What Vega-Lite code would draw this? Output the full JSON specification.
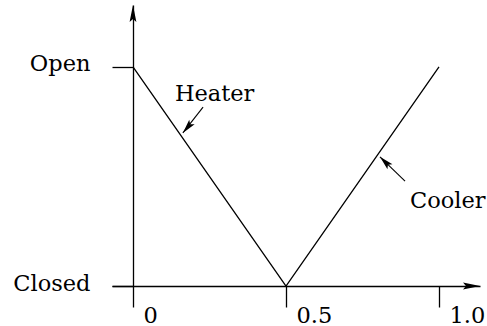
{
  "$schema": "https://vega.github.io/schema/vega-lite/v6.json",
  "width": 368,
  "height": 281,
  "autosize": {"type": "none"},
  "padding": {"left": 112, "top": 5, "right": 7, "bottom": 40},
  "background": "white",
  "config": {
    "view": {"stroke": null},
    "font": "DejaVu Serif",
    "axis": {
      "grid": false,
      "title": null,
      "domainColor": "black",
      "domainWidth": 1.3,
      "tickColor": "black",
      "tickWidth": 1.3,
      "tickSize": 21,
      "labelColor": "black",
      "labelFont": "DejaVu Serif",
      "labelFontSize": 22.5
    }
  },
  "datasets": {
    "valve": [
      {"x": 0, "y": 1},
      {"x": 0.5, "y": 0},
      {"x": 1, "y": 1}
    ],
    "pointers": [
      {"x": 0.229, "y": 0.817, "x2": 0.163, "y2": 0.699},
      {"x": 0.889, "y": 0.479, "x2": 0.807, "y2": 0.590}
    ],
    "labels": [
      {"x": 0.137, "y": 0.845, "label": "Heater"},
      {"x": 0.905, "y": 0.356, "label": "Cooler"}
    ]
  },
  "layer": [
    {
      "data": {"name": "valve"},
      "mark": {"type": "line", "color": "black", "strokeWidth": 1.3},
      "encoding": {
        "x": {
          "field": "x", "type": "quantitative",
          "scale": {"domain": [-0.0686, 1.134], "nice": false, "zero": false},
          "axis": {
            "values": [0, 0.5, 1],
            "labelExpr": "datum.value == 0 ? '0' : datum.value == 0.5 ? '0.5' : '1.0'",
            "labelAlign": "left",
            "labelOffset": 10,
            "labelBaseline": "alphabetic",
            "labelPadding": 15,
            "labelFlush": false,
            "labelOverlap": false
          }
        },
        "y": {
          "field": "y", "type": "quantitative",
          "scale": {"domain": [0, 1.283], "nice": false, "zero": false},
          "axis": {
            "values": [0, 1],
            "offset": -21,
            "labelExpr": "datum.value == 1 ? 'Open' : 'Closed'",
            "labelBaseline": "middle",
            "labelOffset": -3,
            "labelPadding": 22,
            "labelFlush": false,
            "labelOverlap": false
          }
        }
      }
    },
    {
      "data": {"name": "pointers"},
      "mark": {"type": "rule", "color": "black", "strokeWidth": 1.1},
      "encoding": {
        "x": {"field": "x", "type": "quantitative"},
        "y": {"field": "y", "type": "quantitative"},
        "x2": {"field": "x2"},
        "y2": {"field": "y2"}
      }
    },
    {
      "data": {"values": [{"x": 0.163, "y": 0.699}]},
      "mark": {"type": "point", "filled": true, "color": "black", "opacity": 1, "strokeWidth": 0,
               "shape": "M0,0 L0.5,2 L0,1.6 L-0.5,2 Z", "size": 200, "angle": 220},
      "encoding": {
        "x": {"field": "x", "type": "quantitative"},
        "y": {"field": "y", "type": "quantitative"}
      }
    },
    {
      "data": {"values": [{"x": 0.807, "y": 0.590}]},
      "mark": {"type": "point", "filled": true, "color": "black", "opacity": 1, "strokeWidth": 0,
               "shape": "M0,0 L0.5,2 L0,1.6 L-0.5,2 Z", "size": 200, "angle": 315},
      "encoding": {
        "x": {"field": "x", "type": "quantitative"},
        "y": {"field": "y", "type": "quantitative"}
      }
    },
    {
      "data": {"values": [{"x": 0, "y": 1.283}]},
      "mark": {"type": "point", "filled": true, "color": "black", "opacity": 1, "strokeWidth": 0,
               "shape": "M0,0 L0.4,2 L0,1.65 L-0.4,2 Z", "size": 289},
      "encoding": {
        "x": {"field": "x", "type": "quantitative"},
        "y": {"field": "y", "type": "quantitative"}
      }
    },
    {
      "data": {"values": [{"x": 1.134, "y": 0}]},
      "mark": {"type": "point", "filled": true, "color": "black", "opacity": 1, "strokeWidth": 0,
               "shape": "M0,0 L0.4,2 L0,1.65 L-0.4,2 Z", "size": 289, "angle": 90},
      "encoding": {
        "x": {"field": "x", "type": "quantitative"},
        "y": {"field": "y", "type": "quantitative"}
      }
    },
    {
      "data": {"name": "labels"},
      "mark": {"type": "text", "align": "left", "baseline": "alphabetic", "font": "DejaVu Serif", "fontSize": 22.5, "color": "black"},
      "encoding": {
        "x": {"field": "x", "type": "quantitative"},
        "y": {"field": "y", "type": "quantitative"},
        "text": {"field": "label"}
      }
    }
  ]
}
